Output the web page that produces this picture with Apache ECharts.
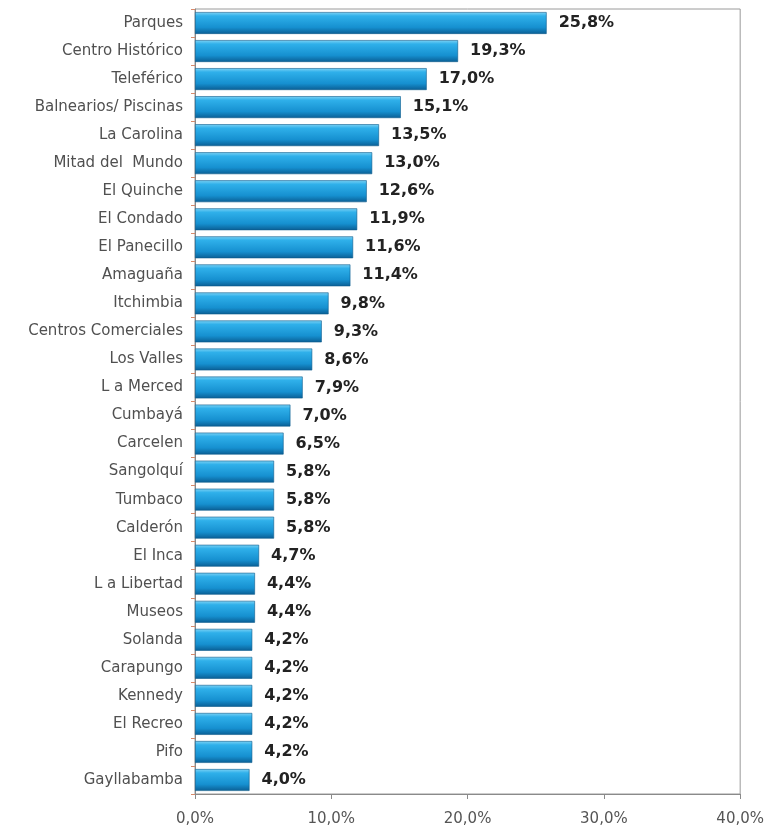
<!DOCTYPE html>
<html>
<head>
<meta charset="utf-8">
<style>
  html, body { margin: 0; padding: 0; background: #fff; }
  #chart { width: 767px; height: 838px; }
</style>
<script src="https://cdn.jsdelivr.net/npm/echarts@6/dist/echarts.min.js"></script>
</head>
<body>
<div id="chart"></div>
<script>
// Places visited, share of respondents (%)
const places = [
  'Parques', 'Centro Histórico', 'Teleférico', 'Balnearios/ Piscinas', 'La Carolina',
  'Mitad del  Mundo', 'El Quinche', 'El Condado', 'El Panecillo', 'Amaguaña',
  'Itchimbia', 'Centros Comerciales', 'Los Valles', 'L a Merced', 'Cumbayá',
  'Carcelen', 'Sangolquí', 'Tumbaco', 'Calderón', 'El Inca',
  'L a Libertad', 'Museos', 'Solanda', 'Carapungo', 'Kennedy',
  'El Recreo', 'Pifo', 'Gayllabamba'
];
const shares = [
  25.8, 19.3, 17.0, 15.1, 13.5,
  13.0, 12.6, 11.9, 11.6, 11.4,
  9.8, 9.3, 8.6, 7.9, 7.0,
  6.5, 5.8, 5.8, 5.8, 4.7,
  4.4, 4.4, 4.2, 4.2, 4.2,
  4.2, 4.2, 4.0
];
const xTicks = [0, 10, 20, 30, 40];

const pct = v => v.toFixed(1).replace('.', ',') + '%';

const chart = echarts.init(document.getElementById('chart'));
chart.setOption({
  animation: false,
  backgroundColor: '#fff',
  grid: {
    left: 195, right: 21, top: 9, bottom: 44,
    show: true, borderColor: '#9a9a9a', borderWidth: 1
  },
  xAxis: {
    type: 'value',
    min: xTicks[0], max: xTicks[xTicks.length - 1], interval: 10,
    axisLine: { show: true, lineStyle: { color: '#8a8a8a' } },
    axisTick: { show: true, length: 5, lineStyle: { color: '#8a8a8a' } },
    splitLine: { show: false },
    axisLabel: {
      formatter: pct, color: '#555', fontFamily: 'DejaVu Sans', fontSize: 15, margin: 18
    }
  },
  yAxis: {
    type: 'category',
    data: places,
    inverse: true,
    axisLine: { show: true, lineStyle: { color: '#8a8a8a' } },
    axisTick: { show: true, length: 4, lineStyle: { color: '#d98a6a' } },
    axisLabel: { color: '#505050', fontFamily: 'DejaVu Sans', fontSize: 15, margin: 12 }
  },
  series: [{
    type: 'bar',
    data: shares,
    barCategoryGap: '22%',
    itemStyle: {
      color: new echarts.graphic.LinearGradient(0, 0, 0, 1, [
        { offset: 0, color: '#7fd3f5' },
        { offset: 0.18, color: '#2fb0ea' },
        { offset: 0.7, color: '#1690d0' },
        { offset: 1, color: '#0a5e94' }
      ]),
      borderColor: '#0b5a8c', borderWidth: 0.6
    },
    label: {
      show: true, position: 'right', distance: 12,
      formatter: p => pct(p.value),
      color: '#222', fontFamily: 'DejaVu Sans', fontWeight: 'bold', fontSize: 16
    }
  }]
});
</script>
</body>
</html>
